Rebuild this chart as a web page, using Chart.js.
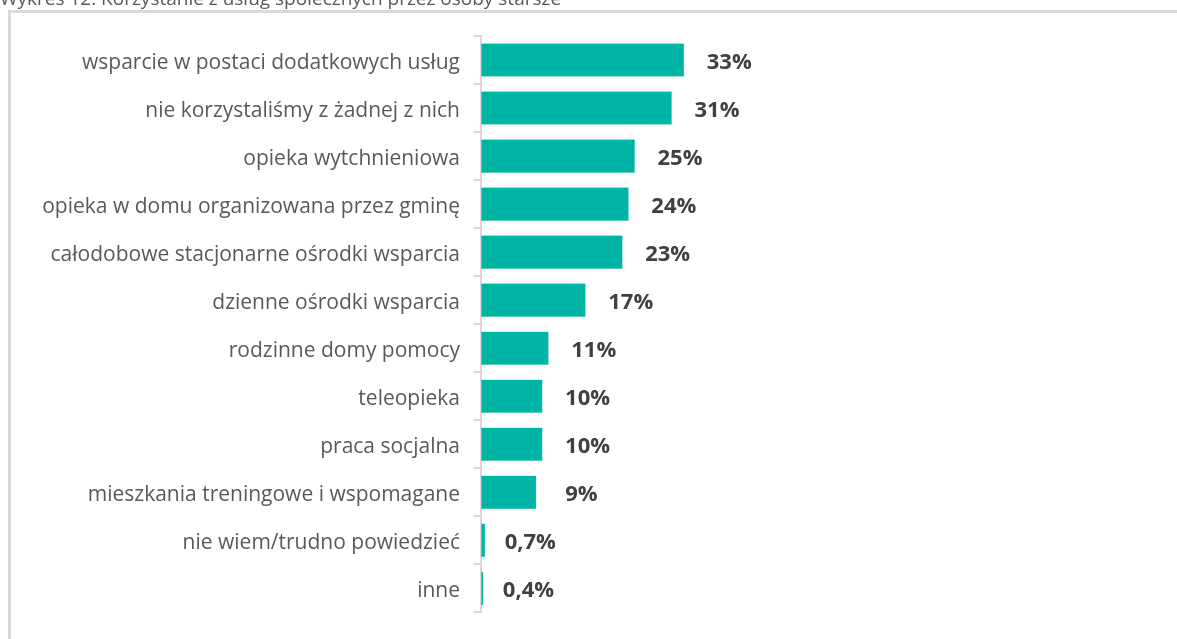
<!DOCTYPE html>
<html><head><meta charset="utf-8">
<script src="https://cdn.jsdelivr.net/npm/chart.js@4"></script>
<style>
html,body{margin:0;padding:0;background:#fff;overflow:hidden;width:1177px;height:639px;}
canvas{display:block;}
</style></head>
<body>
<canvas id="c" width="1177" height="639"></canvas>
<script>
const titleText = "Wykres 12. Korzystanie z usług społecznych przez osoby starsze";
const categories = [
  "wsparcie w postaci dodatkowych usług",
  "nie korzystaliśmy z żadnej z nich",
  "opieka wytchnieniowa",
  "opieka w domu organizowana przez gminę",
  "całodobowe stacjonarne ośrodki wsparcia",
  "dzienne ośrodki wsparcia",
  "rodzinne domy pomocy",
  "teleopieka",
  "praca socjalna",
  "mieszkania treningowe i wspomagane",
  "nie wiem/trudno powiedzieć",
  "inne"
];
const values = [33, 31, 25, 24, 23, 17, 11, 10, 10, 9, 0.7, 0.4];
const valueLabels = ["33%", "31%", "25%", "24%", "23%", "17%", "11%", "10%", "10%", "9%", "0,7%", "0,4%"];

const FONT = '"Open Sans", "Liberation Sans", sans-serif';

const framePlugin = {
  id: 'frame',
  beforeDraw(chart) {
    const ctx = chart.ctx;
    ctx.save();
    ctx.fillStyle = '#ffffff';
    ctx.fillRect(0, 0, chart.width, chart.height);
    ctx.strokeStyle = '#d9d9d9';
    ctx.lineWidth = 3;
    ctx.beginPath();
    ctx.moveTo(9.5, chart.height + 5);
    ctx.lineTo(9.5, 11.5);
    ctx.lineTo(chart.width + 5, 11.5);
    ctx.stroke();
    ctx.font = '19px ' + FONT;
    ctx.fillStyle = '#595959';
    ctx.textAlign = 'left';
    ctx.textBaseline = 'alphabetic';
    ctx.fillText(titleText, 0, 5);
    ctx.restore();
  }
};

const labelPlugin = {
  id: 'valueLabels',
  afterDatasetsDraw(chart) {
    const ctx = chart.ctx;
    const meta = chart.getDatasetMeta(0);
    ctx.save();
    ctx.font = 'bold 22px ' + FONT;
    ctx.fillStyle = '#404040';
    ctx.textAlign = 'center';
    ctx.textBaseline = 'alphabetic';
    meta.data.forEach((bar, i) => {
      ctx.fillText(valueLabels[i], bar.x + 45, bar.y + 9);
    });
    ctx.restore();
  }
};

new Chart(document.getElementById('c'), {
  type: 'bar',
  data: {
    labels: categories,
    datasets: [{
      data: values,
      backgroundColor: '#00b4a5',
      borderColor: '#5fd0c6',
      borderWidth: 0.5,
      borderSkipped: false,
      barPercentage: 0.7,
      categoryPercentage: 1.0
    }]
  },
  options: {
    indexAxis: 'y',
    responsive: false,
    animation: false,
    devicePixelRatio: 1,
    layout: { padding: { top: 36, bottom: 14, right: 80, left: 0 } },
    plugins: { legend: { display: false }, tooltip: { enabled: false } },
    scales: {
      x: { display: false, min: 0, max: 100 },
      y: {
        afterFit(scale) { scale.width = 481; },
        grid: { display: true, drawOnChartArea: false, drawTicks: true, tickLength: 7, color: '#d9d9d9', lineWidth: 2, offset: true },
        border: { display: true, color: '#d9d9d9', width: 2 },
        ticks: { color: '#595959', font: { family: FONT, size: 21 }, padding: 14, labelOffset: 3 }
      }
    }
  },
  plugins: [framePlugin, labelPlugin]
});
</script>
</body></html>
